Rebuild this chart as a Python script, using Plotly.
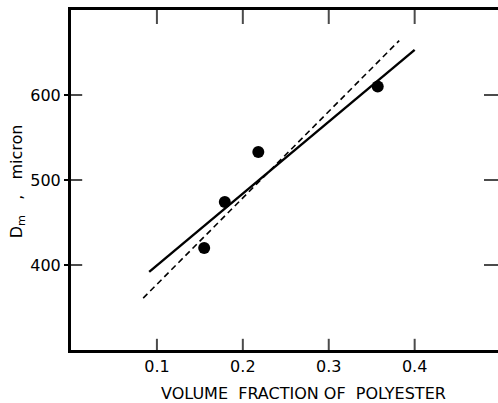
import plotly.graph_objects as go

# data points
x_pts = [0.155, 0.179, 0.218, 0.357]
y_pts = [420, 474, 533, 610]

# solid fit line
x_solid = [0.091, 0.400]
y_solid = [392, 653]

# dashed line
x_dash = [0.084, 0.382]
y_dash = [361, 664]

x_ticks = [0.1, 0.2, 0.3, 0.4]
x_ticklabels = ["0.1", "0.2", "0.3", "0.4"]
y_ticks = [400, 500, 600]
y_ticklabels = ["400", "500", "600"]

X_RANGE = [0.0, 0.497]
Y_RANGE = [300, 700]

x_title = "VOLUME  FRACTION OF  POLYESTER"
y_title = "D<sub>m</sub>   ,   micron"

fig = go.Figure()
fig.add_trace(go.Scatter(x=x_dash, y=y_dash, mode="lines",
                         line=dict(color="black", width=1.6, dash="6px,4px"),
                         showlegend=False))
fig.add_trace(go.Scatter(x=x_solid, y=y_solid, mode="lines",
                         line=dict(color="black", width=2.4),
                         showlegend=False))
fig.add_trace(go.Scatter(x=x_pts, y=y_pts, mode="markers",
                         marker=dict(color="black", size=12),
                         showlegend=False))

# inward tick marks on the frame (half of each marker is clipped by the plot area)
fig.add_trace(go.Scatter(
    x=x_ticks + x_ticks, y=[Y_RANGE[0]] * len(x_ticks) + [Y_RANGE[1]] * len(x_ticks),
    mode="markers", cliponaxis=True, hoverinfo="skip", showlegend=False,
    marker=dict(symbol="line-ns", size=[16] * len(x_ticks) + [20] * len(x_ticks),
                line=dict(width=2, color="black"))))
fig.add_trace(go.Scatter(
    x=[X_RANGE[0]] * len(y_ticks) + [X_RANGE[1]] * len(y_ticks), y=y_ticks + y_ticks,
    mode="markers", cliponaxis=True, hoverinfo="skip", showlegend=False,
    marker=dict(symbol="line-ew", size=[16] * len(y_ticks) + [20] * len(y_ticks),
                line=dict(width=2, color="black"))))

fig.update_layout(
    width=498, height=403,
    margin=dict(l=71, r=0, t=10, b=53),
    paper_bgcolor="white", plot_bgcolor="white",
    font=dict(family="DejaVu Sans", size=16, color="black"),
    xaxis=dict(range=X_RANGE, tickvals=x_ticks, ticktext=x_ticklabels,
               ticks="", showline=True, linewidth=3, linecolor="black", mirror=True,
               showgrid=False, zeroline=False, automargin=False),
    yaxis=dict(range=Y_RANGE, tickvals=y_ticks, ticktext=y_ticklabels,
               ticks="outside", ticklen=4, tickwidth=2, tickcolor="black",
               showline=True, linewidth=3, linecolor="black", mirror=False,
               showgrid=False, zeroline=False, automargin=False),
    annotations=[
        dict(text=x_title, xref="paper", yref="paper", x=0.544, y=0,
             xanchor="center", yanchor="middle", yshift=-43, showarrow=False,
             font=dict(size=16)),
        dict(text=y_title, xref="paper", yref="paper", x=0, y=0.496,
             xanchor="center", yanchor="middle", xshift=-54, textangle=-90,
             showarrow=False, font=dict(size=16)),
    ],
)

fig.write_html("out.html", config={"displayModeBar": False},
               post_script="document.body.style.margin='0';document.body.style.overflow='hidden';")
